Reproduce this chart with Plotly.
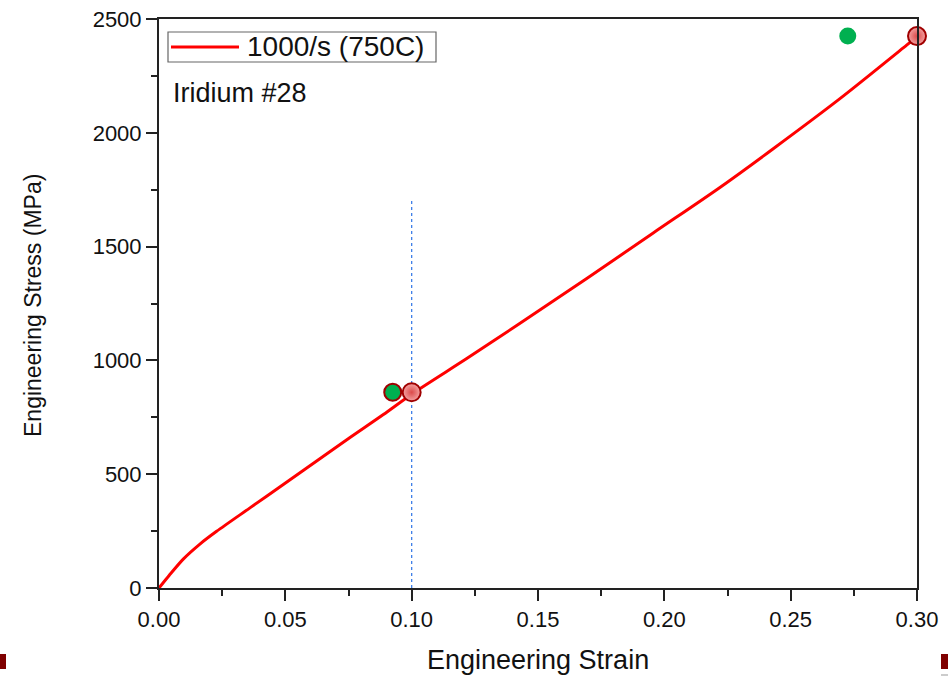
import plotly.graph_objects as go

# ---- data ----
strain = [0.000, 0.004, 0.0096, 0.0162, 0.0228, 0.036, 0.0492, 0.0624, 0.0756, 0.0888,
          0.1007, 0.1218, 0.1429, 0.1693, 0.1956, 0.2220, 0.2431, 0.2695, 0.2959, 0.300]
stress = [0, 55, 127, 193, 249, 352, 455, 558, 661, 762,
          857, 1008, 1163, 1360, 1560, 1760, 1930, 2150, 2385, 2422]

red_pts_x = [0.100, 0.300]
red_pts_y = [860, 2425]
green_pts_x = [0.0925, 0.2726]
green_pts_y = [860, 2425]

vline_x = [0.10, 0.10]
vline_y = [0, 1710]

series_name = "1000/s (750C)"
sample_label = "Iridium #28"
x_title = "Engineering Strain"
y_title = "Engineering Stress (MPa)"
x_ticks = [0.00, 0.05, 0.10, 0.15, 0.20, 0.25, 0.30]
x_ticklabels = ["0.00", "0.05", "0.10", "0.15", "0.20", "0.25", "0.30"]
y_ticks = [0, 500, 1000, 1500, 2000, 2500]

FONT = "Liberation Sans, Arial, sans-serif"
W, H = 948, 676
L, R, T, B = 159, 31, 19, 88
PW, PH = W - L - R, H - T - B


def px(x):
    return (x - L) / PW


def py(y):
    return (H - B - y) / PH


fig = go.Figure()

fig.add_trace(go.Scatter(x=vline_x, y=vline_y, mode="lines",
                         line=dict(color="#3d7ee8", width=1.3, dash="dot"),
                         showlegend=False, hoverinfo="skip"))

fig.add_trace(go.Scatter(x=strain, y=stress, mode="lines", name=series_name,
                         line=dict(color="#ff0000", width=3, shape="spline", smoothing=0.8),
                         showlegend=False))

fig.add_trace(go.Scatter(x=[green_pts_x[0]], y=[green_pts_y[0]], mode="markers",
                         marker=dict(size=17, color="#00b050",
                                     line=dict(color="#a00000", width=2)),
                         cliponaxis=False, showlegend=False))
fig.add_trace(go.Scatter(x=[green_pts_x[1]], y=[green_pts_y[1]], mode="markers",
                         marker=dict(size=17, color="#00b050", line=dict(width=0)),
                         cliponaxis=False, showlegend=False))
fig.add_trace(go.Scatter(x=red_pts_x, y=red_pts_y, mode="markers",
                         marker=dict(size=18, color="#f4a3a3",
                                     gradient=dict(type="radial", color="#dc4a4a"),
                                     line=dict(color="#a00000", width=2)),
                         cliponaxis=False, showlegend=False))

axis_common = dict(showgrid=False, zeroline=False, showline=True, linecolor="#222",
                   linewidth=2, mirror=True, ticks="outside", tickwidth=2,
                   tickcolor="#222", ticklen=11, automargin=False,
                   tickfont=dict(family=FONT, size=22, color="#111"))

fig.update_xaxes(range=[0, 0.30], tickvals=x_ticks, ticktext=x_ticklabels,
                 minor=dict(ticks="outside", ticklen=6, tickwidth=2, tickcolor="#222",
                            dtick=0.025, tick0=0),
                 **axis_common)
fig.update_yaxes(range=[0, 2500], tickvals=y_ticks,
                 minor=dict(ticks="outside", ticklen=6, tickwidth=2, tickcolor="#222",
                            dtick=250, tick0=0),
                 **axis_common)

shapes = [
    # legend box
    dict(type="rect", xref="paper", yref="paper", x0=px(168), x1=px(436), y0=py(62), y1=py(32),
         line=dict(color="#666", width=1.2), fillcolor="white", layer="above"),
    dict(type="line", xref="paper", yref="paper", x0=px(171), x1=px(239), y0=py(47), y1=py(47),
         line=dict(color="#ff0000", width=3), layer="above"),
    # slide decorations
    dict(type="rect", xref="paper", yref="paper", x0=px(0), x1=px(6), y0=py(669), y1=py(654),
         fillcolor="#7f0000", line=dict(width=0)),
    dict(type="rect", xref="paper", yref="paper", x0=px(941), x1=px(948), y0=py(669), y1=py(654),
         fillcolor="#7f0000", line=dict(width=0)),
    dict(type="line", xref="paper", yref="paper", x0=px(941), x1=px(948), y0=py(675), y1=py(675),
         line=dict(color="#999", width=1)),
]

annotations = [
    dict(text=series_name, xref="paper", yref="paper", x=px(245), y=py(47),
         xanchor="left", yanchor="middle", showarrow=False,
         font=dict(family=FONT, size=28, color="#111")),
    dict(text=sample_label, xref="paper", yref="paper", x=px(171), y=py(93),
         xanchor="left", yanchor="middle", showarrow=False,
         font=dict(family=FONT, size=27, color="#111")),
    dict(text=x_title, xref="paper", yref="paper", x=px(538), y=py(660),
         xanchor="center", yanchor="middle", showarrow=False,
         font=dict(family=FONT, size=27, color="#111")),
    dict(text=y_title, xref="paper", yref="paper", x=px(33), y=py(305),
         xanchor="center", yanchor="middle", showarrow=False, textangle=-90,
         font=dict(family=FONT, size=23, color="#111")),
]

fig.update_layout(width=W, height=H, margin=dict(l=L, r=R, t=T, b=B),
                  paper_bgcolor="white", plot_bgcolor="white",
                  showlegend=False, shapes=shapes, annotations=annotations,
                  font=dict(family=FONT))

fig.write_html("out.html")
